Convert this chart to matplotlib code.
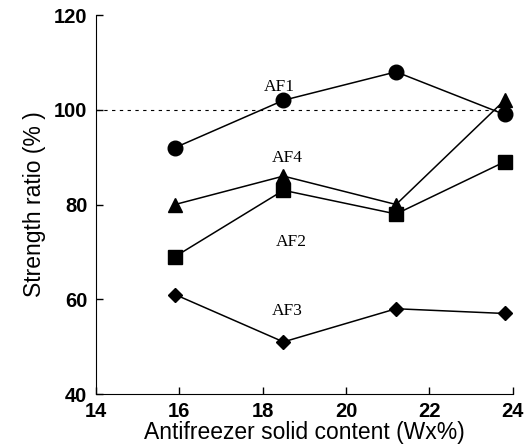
import matplotlib
matplotlib.use("Agg")
from matplotlib import pyplot as plt

# data
x = [15.9, 18.5, 21.2, 23.8]
af1 = [92, 102, 108, 99]
af4 = [80, 86, 80, 102]
af2 = [69, 83, 78, 89]
af3 = [61, 51, 58, 57]

labels = ["AF1", "AF4", "AF2", "AF3"]
label_pos = [(18.4, 104.8), (18.6, 89.8), (18.7, 72.1), (18.6, 57.6)]

plt.rcParams['font.family'] = ['Liberation Sans', 'DejaVu Sans']

fig = plt.figure(figsize=(5.32, 4.48), dpi=100)
ax = fig.add_axes([0.180, 0.1205, 0.784, 0.846])

ax.plot([14, x[-1]], [100, 100], color='black', lw=0.8, ls=(0, (3, 4)))

ax.plot(x, af1, '-o', color='black', lw=1.1, ms=10.5)
ax.plot(x, af4, '-^', color='black', lw=1.1, ms=9.5)
ax.plot(x, af2, '-s', color='black', lw=1.1, ms=10)
ax.plot(x, af3, '-D', color='black', lw=1.1, ms=7)

for name, (tx, ty) in zip(labels, label_pos):
    ax.text(tx, ty, name, family=['Liberation Serif', 'DejaVu Serif'],
            fontsize=12.5, ha='center', va='center')

ax.set_xlim(14, 24)
ax.set_ylim(40, 120)
ax.set_xticks([14, 16, 18, 20, 22, 24])
ax.set_yticks([40, 60, 80, 100, 120])
ax.spines['top'].set_visible(False)
ax.spines['right'].set_visible(False)
ax.tick_params(direction='in', length=5, labelsize=14.5, width=1)
ax.tick_params(axis='x', pad=6)
ax.tick_params(axis='y', pad=6)
for lab in ax.get_xticklabels() + ax.get_yticklabels():
    lab.set_fontweight('bold')

ax.set_xlabel("Antifreezer solid content (Wx%)", fontsize=16.5, labelpad=0)
ax.set_ylabel("Strength ratio (% )", fontsize=16.5, labelpad=6)

fig.savefig("out.png", dpi=100)
